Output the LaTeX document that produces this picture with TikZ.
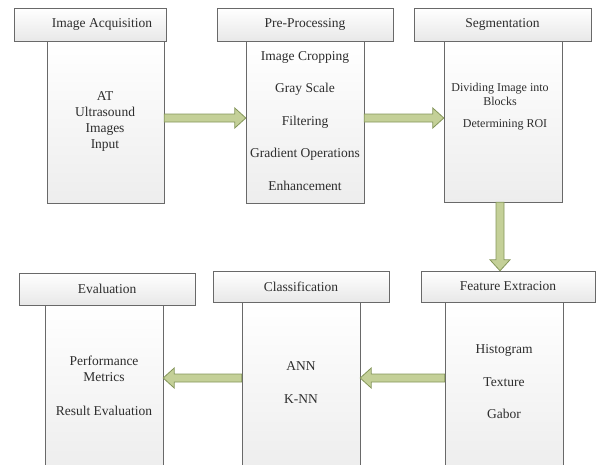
\documentclass[tikz,border=0pt]{standalone}
\usepackage{fontspec}
\setmainfont{Liberation Serif}
\usetikzlibrary{shapes, arrows, positioning, calc, backgrounds}
\usepackage{xcolor}
\definecolor{boxline}{RGB}{105,105,105}
\definecolor{txtgray}{RGB}{45,45,45}
\definecolor{arwfill}{RGB}{196,208,152}
\definecolor{arwline}{RGB}{132,150,90}

% fat block arrow between two named points
\newcommand{\fatarrow}[2]{%
  \coordinate (hb) at ($(#2)!11pt!(#1)$);
  \draw[fatarw] ($(#1)!4pt!90:(#2)$) -- ($(hb)!4pt!90:(#2)$) -- ($(hb)!10pt!90:(#2)$) -- (#2)
    -- ($(hb)!10pt!-90:(#2)$) -- ($(hb)!4pt!-90:(#2)$) -- ($(#1)!4pt!-90:(#2)$) -- cycle;}

\begin{document}
\begin{tikzpicture}[x=1pt, y=-1pt,
    head/.style={draw=boxline, top color=white, bottom color=gray!18, minimum height=33pt,
      inner sep=0pt, text=txtgray, font=\fontsize{13.5}{16}\selectfont},
    body/.style={draw=boxline, top color=white, bottom color=gray!14, inner sep=0pt},
    bodytxt/.style={align=center, text=txtgray, font=\fontsize{13.5}{16}\selectfont},
    fatarw/.style={fill=arwfill, draw=arwline, line width=0.8pt, line join=miter}]
            \useasboundingbox (0,0) rectangle (596,464);
            \clip (0,0) rectangle (596,464);

            % Bodies (top row)
            \node[body, minimum width=117pt, minimum height=162pt] (acqbody) at (105.5,122) {};
            \node[body, minimum width=118pt, minimum height=162pt] (prebody) at (305,122) {};
            \node[body, minimum width=118pt, minimum height=161pt] (segbody) at (503,121.5) {};
            % Bodies (bottom row, run off the page)
            \node[body, minimum width=118pt, minimum height=170pt] (featbody) at (504,387) {};
            \node[body, minimum width=118pt, minimum height=170pt] (classbody) at (301,387) {};
            \node[body, minimum width=118pt, minimum height=167pt] (evalbody) at (104,388.5) {};

            % Headers
            \node[head, minimum width=152pt] (acqhead) at (90,24.5) {\hspace*{24pt}Image Acquisition};
            \node[head, minimum width=176pt] (prehead) at (305,24.5) {Pre-Processing};
            \node[head, minimum width=177pt] (seghead) at (502.5,24.5) {Segmentation};
            \node[head, minimum width=174pt, minimum height=31pt] (feathead) at (508,286.5) {Feature Extracion};
            \node[head, minimum width=176pt, minimum height=31pt] (classhead) at (301,286.5) {Classification};
            \node[head, minimum width=176pt, minimum height=32pt] (evalhead) at (107,289) {Evaluation};

            % Body texts
            \node[bodytxt] (acqtxt) at (105,121) {AT\\Ultrasound\\Images\\Input};
            \node[bodytxt] (pretxt) at (305,121) {Image Cropping\\[16.5pt]Gray Scale\\[16.5pt]Filtering\\[16.5pt]Gradient Operations\\[16.5pt]Enhancement};
            \node[bodytxt, font=\fontsize{12}{14}\selectfont] (segtxt) at (500,107) {Dividing Image into\\Blocks\\[8pt]\hspace*{10pt}Determining ROI};
            \node[bodytxt] (feattxt) at (504,382) {Histogram\\[16.5pt]Texture\\[16.5pt]Gabor};
            \node[bodytxt] (classtxt) at (301,383) {ANN\\[17pt]K-NN};
            \node[bodytxt] (evaltxt) at (104,386) {Performance\\Metrics\\[18pt]Result Evaluation};

            % Arrows
            \coordinate (a1s) at ($(acqbody.east)+(0,-4)$);
            \coordinate (a1e) at ($(prebody.west)+(0,-4)$);
            \fatarrow{a1s}{a1e}
            \coordinate (a2s) at ($(prebody.east)+(0,-4)$);
            \coordinate (a2e) at ($(segbody.west)+(0,-3.5)$);
            \fatarrow{a2s}{a2e}
            \coordinate (a3s) at ($(segbody.south)+(-3,0)$);
            \coordinate (a3e) at (a3s |- feathead.north);
            \fatarrow{a3s}{a3e}
            \coordinate (a4s) at ($(featbody.west)+(0,-9)$);
            \coordinate (a4e) at (classbody.east |- a4s);
            \fatarrow{a4s}{a4e}
            \coordinate (a5s) at (classbody.west |- a4s);
            \coordinate (a5e) at (evalbody.east |- a4s);
            \fatarrow{a5s}{a5e}
\end{tikzpicture}
\end{document}
